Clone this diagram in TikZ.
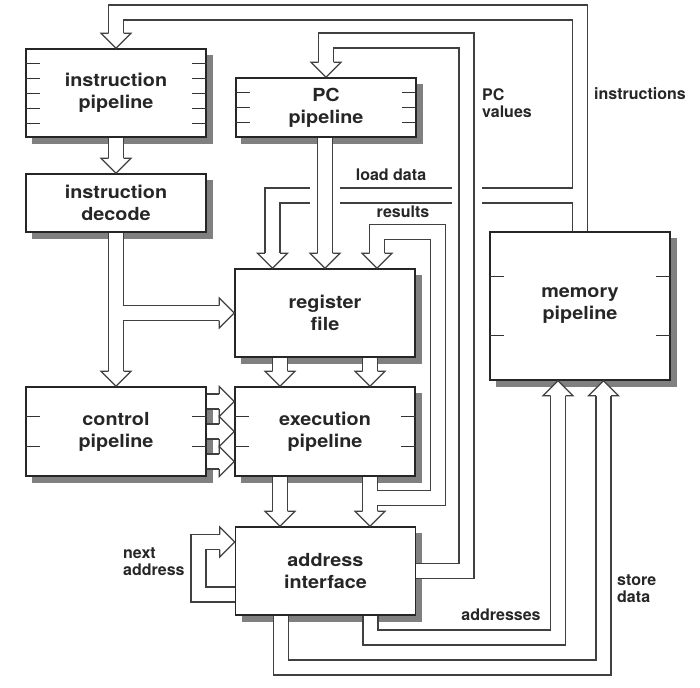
\documentclass[tikz,border=0pt]{standalone}
\usepackage{fontspec}
\setmainfont{TeX Gyre Heros}
\newfontfamily\boxfont[FakeStretch=1.1]{TeX Gyre Heros}

\begin{document}
\begin{tikzpicture}[x=1pt, y=-1pt, line join=miter]
        \tikzstyle{unitBox} = [rectangle, draw=black!85, line width=1.5pt, fill=white,
            minimum width=180, inner sep=0pt, align=center, text=black!85,
            font=\boxfont\bfseries\fontsize{18}{22}\selectfont]
        \tikzstyle{unitShadow} = [fill=black!50]
        \tikzstyle{tick} = [draw=black!80, line width=0.9pt]
        \tikzstyle{pipeOuter} = [draw=black!75, line width=16.1pt]
        \tikzstyle{pipeInner} = [draw=white, line width=13.9pt]
        \tikzstyle{headStyle} = [draw=black!75, fill=white, line width=1.1pt]
        \tikzstyle{busLabel} = [inner sep=0pt, align=left, text=black!85,
            font=\bfseries\fontsize{16}{17}\selectfont]
        \tikzset{head/.pic={\path[headStyle] (-15,-7.5) -- (-15,-15) -- (0,0) -- (-15,15) -- (-15,7.5);}}
        \fill[white] (0,0) rectangle (700,687);
        % drop shadows, drawn under the units
        \fill[unitShadow] (32,55) rectangle (212.5,144);
        \fill[unitShadow] (241,84) rectangle (422.5,144);
        \fill[unitShadow] (32,180) rectangle (212.5,239);
        \fill[unitShadow] (241,275) rectangle (421.5,364);
        \fill[unitShadow] (32,393) rectangle (212.5,483);
        \fill[unitShadow] (241,393) rectangle (421.5,483);
        \fill[unitShadow] (241.5,533) rectangle (422,622);
        \fill[unitShadow] (496,238) rectangle (676.5,387);
        % units
        \node[unitBox, minimum height=88] (IP) at (116,93) {instruction\\pipeline};
        \node[unitBox, minimum height=59] (PC) at (326,107.5) {PC\\pipeline};
        \node[unitBox, minimum height=58] (ID) at (116,203) {instruction\\decode};
        \node[unitBox, minimum height=88] (RF) at (325,313) {register\\file};
        \node[unitBox, minimum height=89] (CP) at (116,431.5) {control\\pipeline};
        \node[unitBox, minimum height=89] (EP) at (325,431.5) {execution\\pipeline};
        \node[unitBox, minimum height=88] (AI) at (325.5,571) {address\\interface};
        \node[unitBox, minimum height=148] (MP) at (580,306) {memory\\pipeline};
        % pipeline stage ticks
        \foreach \dy in {-30,-15,0,15,30} {
            \draw[tick] ([yshift=\dy pt]IP.west) -- ++(15,0);
            \draw[tick] ([yshift=\dy pt]IP.east) -- ++(-15,0);
        }
        \foreach \dy in {-15,0,15} {
            \draw[tick] ([yshift=\dy pt]PC.west) -- ++(15,0);
            \draw[tick] ([yshift=\dy pt]PC.east) -- ++(-15,0);
        }
        \foreach \n in {CP,EP} \foreach \dy in {-15,15} {
            \draw[tick] ([yshift=\dy pt]\n.west) -- ++(15,0);
            \draw[tick] ([yshift=\dy pt]\n.east) -- ++(-15,0);
        }
        \foreach \dy in {-29.5,29.5} {
            \draw[tick] ([yshift=\dy pt]MP.west) -- ++(15,0);
            \draw[tick] ([yshift=\dy pt]MP.east) -- ++(-15,0);
        }
        % rails of the buses
        \coordinate (instrRail) at (0,12.5);
        \coordinate (pcRail) at (0,40.5);
        \coordinate (loadRail) at (0,195.5);
        \coordinate (resRail) at (0,232);
        \coordinate (resBranch) at (0,498);
        \coordinate (nextRail) at (0,542);
        \coordinate (pcDrop) at (466.5,0);
        \coordinate (resDrop) at (438,0);
        \coordinate (loopDrop) at (198.5,0);
        \coordinate (addrTurn) at (558,637.5);
        \coordinate (storeTurn) at (603.5,667.5);
        \coordinate (loadIn) at ([xshift=-52.5pt]RF.north);
        \coordinate (resIn) at ([xshift=52pt]RF.north);
        \coordinate (rfOutL) at ([xshift=-45pt]RF.south);
        \coordinate (rfOutR) at ([xshift=45pt]RF.south);
        \coordinate (epOutL) at ([xshift=-45pt]EP.south);
        \coordinate (epOutR) at ([xshift=45pt]EP.south);
        \coordinate (aiOutL) at ([xshift=-44.5pt]AI.south);
        \coordinate (aiOutR) at ([xshift=45pt]AI.south);
        \coordinate (nextOut) at ([yshift=-23.5pt]AI.west);
        \coordinate (ctlA) at ([yshift=30pt]CP.east);
        \coordinate (ctlB) at (CP.east);
        \coordinate (ctlC) at ([yshift=-30pt]CP.east);
        % bus routes
        \def\busA{(IP.south) -- ([yshift=15pt]ID.north)}
        \def\busB{(ID.south) -- ([yshift=15pt]CP.north)}
        \def\busC{(ID.south |- RF.west) -- ([xshift=-15pt]RF.west)}
        \def\busD{(MP.north) -- (MP.north |- instrRail) -- (IP.north |- instrRail) -- ([yshift=15pt]IP.north)}
        \def\busE{(MP.north |- loadRail) -- (loadIn |- loadRail) -- ([yshift=15pt]loadIn)}
        \def\busF{(RF.north |- PC.south) -- ([yshift=15pt]RF.north)}
        \def\busG{(AI.east) -- (AI.east -| pcDrop) -- (pcDrop |- pcRail) -- (PC.north |- pcRail) -- ([yshift=15pt]PC.north)}
        \def\busH{(rfOutL) -- ([yshift=15pt]rfOutL |- EP.north)}
        \def\busI{(rfOutR) -- ([yshift=15pt]rfOutR |- EP.north)}
        \def\busJ{(epOutL) -- ([yshift=15pt]epOutL |- AI.north)}
        \def\busK{(epOutR) -- ([yshift=15pt]epOutR |- AI.north)}
        \def\busL{(epOutR |- resBranch) -- (resDrop |- resBranch) -- (resDrop |- resRail) -- (resIn |- resRail) -- ([yshift=15pt]resIn)}
        \def\busM{(nextOut) -| (loopDrop |- nextRail) -- ([xshift=-15pt]AI.west |- nextRail)}
        \def\busN{(aiOutR) |- (addrTurn) -- ([yshift=-15pt]addrTurn |- MP.south)}
        \def\busO{(aiOutL) |- (storeTurn) -- ([yshift=-15pt]storeTurn |- MP.south)}
        \def\busP{(ctlA) -- ([xshift=-15pt]ctlA -| EP.west)}
        \def\busQ{(ctlB) -- ([xshift=-15pt]ctlB -| EP.west)}
        \def\busR{(ctlC) -- ([xshift=-15pt]ctlC -| EP.west)}
        \foreach \bus in {\busA,\busB,\busC,\busD,\busE,\busF,\busG,\busH,\busI,\busJ,\busK,\busL,\busM,\busN,\busO,\busP,\busQ,\busR}
            \draw[pipeOuter] \bus;
        \foreach \bus in {\busA,\busB,\busC,\busD,\busE,\busF,\busG,\busH,\busI,\busJ,\busK,\busL,\busM,\busN,\busO,\busP,\busQ,\busR}
            \draw[pipeInner] \bus;
        % arrow heads
        \path (IP.north) pic[rotate=-90] {head};
        \path (ID.north) pic[rotate=-90] {head};
        \path (CP.north) pic[rotate=-90] {head};
        \path (RF.west) pic {head};
        \path (loadIn) pic[rotate=-90] {head};
        \path (RF.north) pic[rotate=-90] {head};
        \path (resIn) pic[rotate=-90] {head};
        \path (PC.north) pic[rotate=-90] {head};
        \path (rfOutL |- EP.north) pic[rotate=-90] {head};
        \path (rfOutR |- EP.north) pic[rotate=-90] {head};
        \path (epOutL |- AI.north) pic[rotate=-90] {head};
        \path (epOutR |- AI.north) pic[rotate=-90] {head};
        \path (AI.west |- nextRail) pic {head};
        \path (addrTurn |- MP.south) pic[rotate=90] {head};
        \path (storeTurn |- MP.south) pic[rotate=90] {head};
        \foreach \c in {ctlA,ctlB,ctlC}
            \path (\c -| EP.west) pic {head};
        % crossings: vertical buses pass over load data
        \coordinate (crossA) at (RF.north |- loadRail);
        \coordinate (crossB) at (pcDrop |- loadRail);
        \foreach \c in {crossA,crossB} {
            \draw[white, line width=30pt] ([yshift=12pt]\c) -- ([yshift=-12pt]\c);
            \draw[pipeOuter] ([yshift=12pt]\c) -- ([yshift=-12pt]\c);
            \draw[pipeInner] ([yshift=13pt]\c) -- ([yshift=-13pt]\c);
        }
        % bus labels
        \node[busLabel, anchor=west] (instrLbl) at (594,94) {instructions};
        \node[busLabel, anchor=west] (pcLbl) at (482,103) {PC\\values};
        \node[busLabel] (loadLbl) at (391,175) {load data};
        \node[busLabel] (resLbl) at (403,212) {results};
        \node[busLabel, anchor=west] (nextLbl) at (123,562) {next\\address};
        \node[busLabel] (addrLbl) at (501,615) {addresses};
        \node[busLabel, anchor=west] (storeLbl) at (617,589) {store\\data};
\end{tikzpicture}
\end{document}
